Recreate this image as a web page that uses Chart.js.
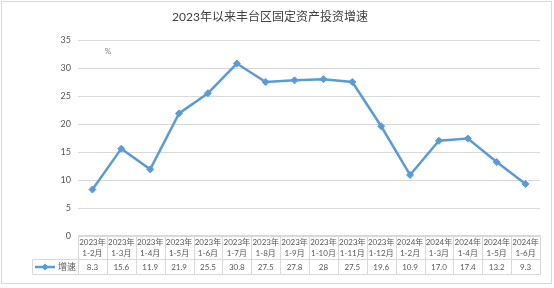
<!DOCTYPE html>
<html>
<head>
<meta charset="utf-8">
<script src="https://cdn.jsdelivr.net/npm/chart.js@4.4.1/dist/chart.umd.min.js"></script>
<style>
  html, body { margin: 0; padding: 0; background: #fff; }
  canvas { display: block; }
</style>
</head>
<body>
<canvas id="chart" width="554" height="288"></canvas>
<script>
// data
var years = ['2023年', '2023年', '2023年', '2023年', '2023年', '2023年', '2023年', '2023年',
  '2023年', '2023年', '2023年', '2024年', '2024年', '2024年', '2024年', '2024年'];
var periods = ['1-2月', '1-3月', '1-4月', '1-5月', '1-6月', '1-7月', '1-8月', '1-9月',
  '1-10月', '1-11月', '1-12月', '1-2月', '1-3月', '1-4月', '1-5月', '1-6月'];
var values = [8.3, 15.6, 11.9, 21.9, 25.5, 30.8, 27.5, 27.8, 28, 27.5, 19.6, 10.9, 17.0, 17.4, 13.2, 9.3];
var valueText = ['8.3', '15.6', '11.9', '21.9', '25.5', '30.8', '27.5', '27.8', '28', '27.5',
  '19.6', '10.9', '17.0', '17.4', '13.2', '9.3'];
var seriesName = '增速';
var unitLabel = '%';

var FONT = 'Lato, "Noto Sans CJK SC", sans-serif';
var LINE_COLOR = '#5B9BD5';
var GRID = '#d9d9d9';
var TEXT = '#595959';

// frame around the whole chart
var frame = {
  id: 'frame',
  beforeDraw: function (chart) {
    var ctx = chart.ctx;
    ctx.save();
    ctx.fillStyle = '#fff';
    ctx.fillRect(0, 0, chart.width, chart.height);
    ctx.strokeStyle = GRID;
    ctx.lineWidth = 1;
    ctx.strokeRect(1.5, 1.5, chart.width - 4, chart.height - 6);
    ctx.restore();
  }
};

// excel-like data table under the plot
var dataTable = {
  id: 'dataTable',
  afterDraw: function (chart) {
    var ctx = chart.ctx;
    var xs = chart.scales.x;
    var area = chart.chartArea;
    var n = values.length;
    var half = (area.right - area.left) / n / 2;
    var top = Math.round(area.bottom) - 0.5;
    var mid = top + 24;
    var bottom = mid + 15;
    var legendLeft = 32.5;

    ctx.save();
    ctx.strokeStyle = GRID;
    ctx.lineWidth = 1;
    ctx.beginPath();
    ctx.moveTo(Math.round(area.left) + 0.5, top);
    ctx.lineTo(Math.round(area.right) + 0.5, top);
    ctx.moveTo(legendLeft, mid);
    ctx.lineTo(Math.round(area.right) + 0.5, mid);
    ctx.moveTo(legendLeft, bottom);
    ctx.lineTo(Math.round(area.right) + 0.5, bottom);
    ctx.moveTo(legendLeft, mid);
    ctx.lineTo(legendLeft, bottom);
    for (var i = 0; i <= n; i++) {
      var lx = Math.round(xs.getPixelForValue(i) - half) + 0.5;
      ctx.moveTo(lx, top);
      ctx.lineTo(lx, bottom);
    }
    ctx.stroke();

    ctx.fillStyle = TEXT;
    ctx.font = '8px ' + FONT;
    ctx.textAlign = 'center';
    ctx.textBaseline = 'middle';
    for (var j = 0; j < n; j++) {
      var cx = xs.getPixelForValue(j);
      ctx.fillText(years[j], cx, top + 7);
      ctx.fillText(periods[j], cx, top + 18);
      ctx.fillText(valueText[j], cx, mid + 8);
    }

    // legend key
    var ky = mid + 7.5;
    ctx.strokeStyle = LINE_COLOR;
    ctx.lineWidth = 2.5;
    ctx.beginPath();
    ctx.moveTo(35, ky);
    ctx.lineTo(55, ky);
    ctx.stroke();
    ctx.fillStyle = LINE_COLOR;
    ctx.beginPath();
    ctx.moveTo(45, ky - 3.5);
    ctx.lineTo(48.5, ky);
    ctx.lineTo(45, ky + 3.5);
    ctx.lineTo(41.5, ky);
    ctx.closePath();
    ctx.fill();
    ctx.fillStyle = TEXT;
    ctx.textAlign = 'left';
    ctx.font = '9px ' + FONT;
    ctx.fillText(seriesName, 58, ky + 0.5);

    // unit label
    ctx.fillStyle = '#7f7f7f';
    ctx.font = '8px ' + FONT;
    ctx.textAlign = 'center';
    ctx.fillText(unitLabel, area.left + 30, area.top + 11);
    ctx.restore();
  }
};

new Chart(document.getElementById('chart'), {
  type: 'line',
  data: {
    labels: periods,
    datasets: [{
      label: seriesName,
      data: values,
      borderColor: LINE_COLOR,
      backgroundColor: LINE_COLOR,
      borderWidth: 2.5,
      pointStyle: 'rectRot',
      pointRadius: 3.5,
      pointBorderWidth: 1,
      tension: 0
    }]
  },
  options: {
    responsive: false,
    animation: false,
    layout: { padding: { left: 0, right: 14, bottom: 52 } },
    plugins: {
      legend: { display: false },
      tooltip: { enabled: false },
      title: {
        display: true,
        text: '2023年以来丰台区固定资产投资增速',
        color: '#404040',
        font: { family: FONT, size: 12, weight: 'normal' },
        padding: { top: 10, bottom: 15.6 }
      }
    },
    scales: {
      x: {
        display: false,
        offset: true
      },
      y: {
        min: 0,
        max: 35,
        afterFit: function (scale) { scale.width = 78; },
        ticks: {
          stepSize: 5,
          color: TEXT,
          padding: 7,
          font: { family: FONT, size: 9 }
        },
        grid: { color: GRID, drawTicks: false },
        border: { display: false }
      }
    }
  },
  plugins: [frame, dataTable]
});
</script>
</body>
</html>
